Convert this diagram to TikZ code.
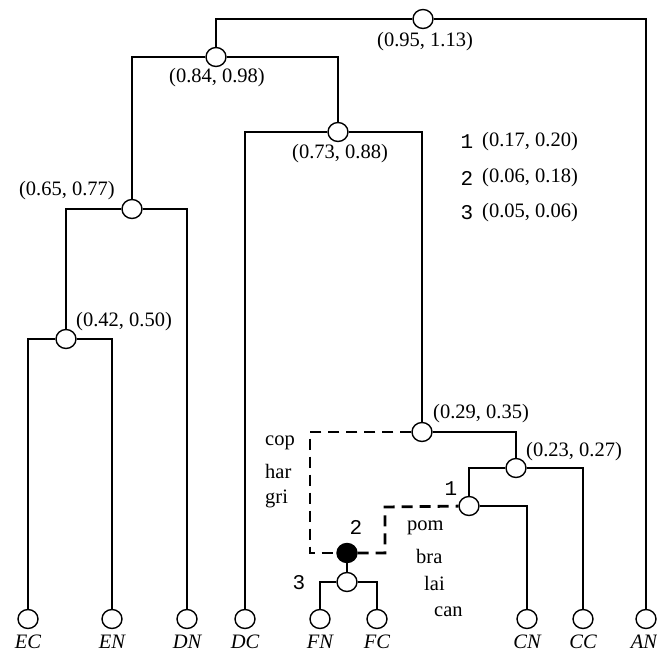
\documentclass[tikz,border=0pt]{standalone}
\usepackage{fontspec}
\setmainfont{Liberation Serif}
\newfontfamily\numfont{Liberation Mono}
\usetikzlibrary{shapes.geometric}
\begin{document}
\begin{tikzpicture}[x=1pt,y=-1pt,
  tree/.style={line width=2.8pt,line join=miter},
  dashtree/.style={tree,dash pattern=on 11pt off 7pt},
  vert/.style={ellipse,draw,line width=1.4pt,fill=white,minimum width=20pt,minimum height=19pt,inner sep=0pt},
  blackvert/.style={vert,fill=black},
  lab/.style={font=\fontsize{20.5}{22}\selectfont,inner sep=0pt},
  leaflab/.style={lab,font=\fontsize{20.5}{22}\selectfont\itshape},
  num/.style={font=\fontsize{21}{23}\numfont,inner sep=0pt}]
\useasboundingbox (0,0) rectangle (657,652);
% leaves
\node[vert] (EC) at (28,619) {};
\node[vert] (EN) at (112,619) {};
\node[vert] (DN) at (187,619) {};
\node[vert] (DC) at (245,619) {};
\node[vert] (FN) at (320,619) {};
\node[vert] (FC) at (377,619) {};
\node[vert] (CN) at (527,619) {};
\node[vert] (CC) at (583,619) {};
\node[vert] (AN) at (646,619) {};
% internal
\node[vert] (R) at (423,19) {};
\node[vert] (N84) at (216,57) {};
\node[vert] (N73) at (338,132) {};
\node[vert] (N65) at (132,209) {};
\node[vert] (N42) at (66,339) {};
\node[vert] (N29) at (422,432) {};
\node[vert] (N23) at (516,468) {};
\node[vert] (N1) at (469,506) {};
\node[blackvert] (B) at (347,553) {};
\node[vert] (N3) at (347,582) {};
\coordinate (c1) at (310,432);
\coordinate (c3) at (385,507);
% edges
\draw[tree] (N84) |- (R) -| (AN);
\draw[tree] (N65) |- (N84) -| (N73);
\draw[tree] (DC) |- (N73) -| (N29);
\draw[tree] (N42) |- (N65) -| (DN);
\draw[tree] (EC) |- (N42) -| (EN);
\draw[tree] (N29) -| (N23);
\draw[tree] (N1) |- (N23) -| (CC);
\draw[tree] (N1) -| (CN);
\draw[tree] (B) -- (N3);
\draw[tree] (FN) |- (N3) -| (FC);
\draw[dashtree] (N29) -- (c1) |- (B);
\draw[dashtree] (B) -| (c3) -- (N1);
% labels
\node[lab] (lR) at (425,42) {(0.95, 1.13)};
\node[lab] (l84) at (217,78) {(0.84, 0.98)};
\node[lab] (l73) at (340,154) {(0.73, 0.88)};
\node[lab] (l65) at (67,191) {(0.65, 0.77)};
\node[lab,anchor=west] (l42) at (76,322) {(0.42, 0.50)};
\node[lab,anchor=west] (l29) at (433,414) {(0.29, 0.35)};
\node[lab,anchor=west] (l23) at (526,452) {(0.23, 0.27)};
% legend
\node[num] (k1) at (467,142) {1};
\node[lab,anchor=west] (v1) at (482,142) {(0.17, 0.20)};
\node[num] (k2) at (467,178) {2};
\node[lab,anchor=west] (v2) at (482,178) {(0.06, 0.18)};
\node[num] (k3) at (467,213) {3};
\node[lab,anchor=west] (v3) at (482,213) {(0.05, 0.06)};
% marker numbers
\node[num] (m1) at (451,489) {1};
\node[num] (m2) at (356,527) {2};
\node[num] (m3) at (299,583) {3};
% word labels
\node[lab,anchor=west] (wcop) at (265,443) {cop};
\node[lab,anchor=west] (whar) at (265,471) {har};
\node[lab,anchor=west] (wgri) at (265,499) {gri};
\node[lab,anchor=west] (wpom) at (407,528) {pom};
\node[lab,anchor=west] (wbra) at (416,556) {bra};
\node[lab,anchor=west] (wlai) at (424,583) {lai};
\node[lab,anchor=west] (wcan) at (434,612) {can};
% leaf labels
\foreach \n in {EC,EN,DN,DC,FN,FC,CN,CC}
  \node[leaflab] (t\n) at ([yshift=-23pt]\n) {\n};
\node[leaflab] (tAN) at ([xshift=-2pt,yshift=-23pt]AN) {AN};
\end{tikzpicture}
\end{document}
